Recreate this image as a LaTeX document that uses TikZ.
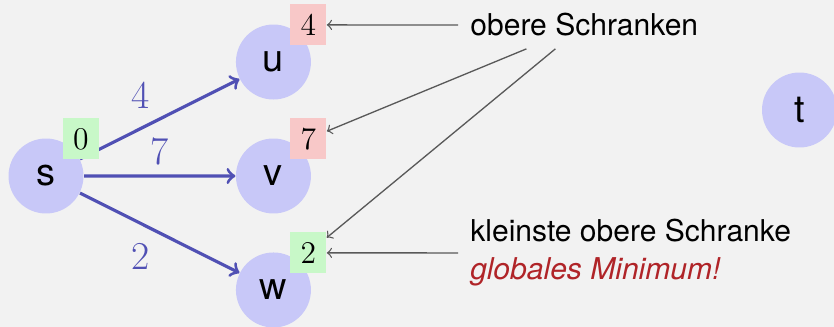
\documentclass[tikz,border=0pt]{standalone}
\usepackage{fontspec}
\setsansfont{TeX Gyre Heros}
\definecolor{bg}{RGB}{242,242,242}
\definecolor{knoten}{RGB}{200,200,248}
\definecolor{kante}{RGB}{80,80,180}
\definecolor{rotbox}{RGB}{248,200,200}
\definecolor{gruenbox}{RGB}{200,248,200}
\definecolor{warnrot}{RGB}{176,36,40}

\begin{document}
\begin{tikzpicture}[x=0.01333cm, y=-0.01333cm,
  grow'=right, level distance=3.033cm, sibling distance=1.52cm,
  vertex/.style = {circle, fill=knoten, minimum size=1cm, inner sep=0pt,
    font=\sffamily\fontsize{14.4}{16}\selectfont},
  edge from parent/.style = {draw=kante, line width=1.2pt, ->},
  gewicht/.style = {text=kante, font=\fontsize{15}{17}\selectfont},
  schranke/.style = {minimum width=13.6pt, minimum height=15.5pt, inner sep=0pt,
    font=\fontsize{12}{14}\selectfont},
  notiz/.style = {inner sep=4.5pt, align=left,
    font=\sffamily\fontsize{11.4}{14.4}\selectfont},
  hinweis/.style = {->, draw=black!65, line width=0.5pt}]
    \path[use as bounding box, fill=bg] (0,0) rectangle (834,327);
    \node[vertex] (s) at (46,176) {s}
    child { node[vertex] (u) {u} edge from parent node[gewicht, above left] {4} }
    child { node[vertex] (v) {v} edge from parent node[gewicht, above] {7} }
    child { node[vertex] (w) {w} edge from parent node[gewicht, below left] {2} };
    \node[vertex] (t) at (799.5,110) {t};
    \node[schranke, fill=gruenbox] (ds) at ([xshift=0.465cm, yshift=0.495cm]s.center) {0};
    \node[schranke, fill=rotbox] (du) at ([xshift=0.465cm, yshift=0.495cm]u.center) {4};
    \node[schranke, fill=rotbox] (dv) at ([xshift=0.465cm, yshift=0.495cm]v.center) {7};
    \node[schranke, fill=gruenbox] (dw) at ([xshift=0.465cm, yshift=0.495cm]w.center) {2};
    \node[notiz, anchor=west] (obere) at (458,25) {obere Schranken};
    \node[notiz, anchor=west] (kleinste) at (458,253)
      {kleinste obere Schranke \\ \textcolor{warnrot}{\itshape globales Minimum!}};
    \draw[hinweis] (obere) -- (du);
    \draw[hinweis] (obere) -- (dv);
    \draw[hinweis] (obere) -- (dw);
    \draw[hinweis] (kleinste) -- (dw);
\end{tikzpicture}
\end{document}
